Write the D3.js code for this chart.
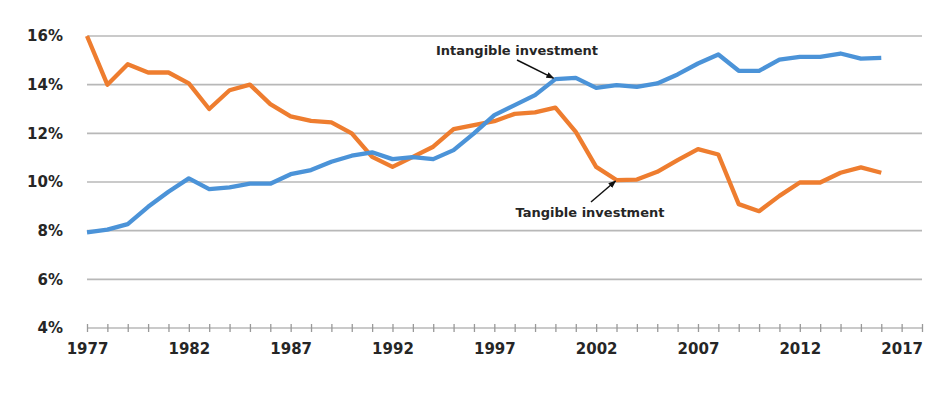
<!DOCTYPE html>
<html>
<head>
<meta charset="utf-8">
<script src="https://cdn.jsdelivr.net/npm/d3@7"></script>
<style>
  body { margin: 0; background: #fff; }
  text { font-family: "DejaVu Sans", Verdana, sans-serif; font-weight: bold; fill: #262626; }
</style>
</head>
<body>
<script>
// years of data
const years = d3.range(1977, 2017)

// tangible investment, % (orange)
const tangible = [16.0, 14.0, 14.84, 14.5, 14.5, 14.05, 13.0, 13.77, 14.0, 13.2,
  12.7, 12.51, 12.45, 12.0, 11.03, 10.62, 11.03, 11.45, 12.17, 12.34,
  12.5, 12.8, 12.86, 13.06, 12.06, 10.62, 10.08, 10.1, 10.42, 10.9,
  11.35, 11.13, 9.09, 8.8, 9.43, 9.98, 9.98, 10.38, 10.6, 10.38]

// intangible investment, % (blue)
const intangible = [7.93, 8.04, 8.27, 8.98, 9.6, 10.15, 9.71, 9.78, 9.93, 9.93,
  10.32, 10.49, 10.83, 11.08, 11.22, 10.94, 11.02, 10.94, 11.31, 12.0,
  12.75, 13.16, 13.57, 14.23, 14.28, 13.87, 13.98, 13.91, 14.05, 14.42,
  14.87, 15.24, 14.57, 14.57, 15.03, 15.14, 15.14, 15.28, 15.07, 15.1]

const yTicks = [4, 6, 8, 10, 12, 14, 16]
const xLabels = [1977, 1982, 1987, 1992, 1997, 2002, 2007, 2012, 2017]

const width = 944
const height = 393

const blue = '#4b93d8'
const orange = '#ee7d2f'
const gridColor = '#b8b8b8'

const svg = d3.select('body').append('svg')
  .attr('width', width)
  .attr('height', height)

const x = d3.scaleLinear().domain([1977, 2018]).range([87, 922])
const y = d3.scaleLinear().domain([4, 16]).range([328, 36])

// Gridlines
svg.append('g')
  .selectAll('line')
  .data(yTicks)
  .enter()
  .append('line')
  .attr('x1', x(1977))
  .attr('x2', x(2018))
  .attr('y1', (d) => y(d))
  .attr('y2', (d) => y(d))
  .attr('stroke', gridColor)
  .attr('stroke-width', 1.7)

// Y labels
svg.append('g')
  .selectAll('text')
  .data(yTicks)
  .enter()
  .append('text')
  .attr('x', 63)
  .attr('y', (d) => y(d))
  .attr('dy', '0.36em')
  .attr('text-anchor', 'end')
  .style('font-size', '15px')
  .text((d) => d + '%')

// X axis, ticks crossing the line
const xAxis = svg.append('g')
  .attr('transform', `translate(0,${y(4)})`)
  .call(
    d3.axisBottom(x)
      .tickValues(d3.range(1977, 2019))
      .tickSize(4)
      .tickSizeOuter(0)
      .tickFormat((d) => (xLabels.includes(d) ? d : ''))
  )
xAxis.select('.domain').remove()
xAxis.selectAll('.tick line')
  .attr('y1', -4)
  .attr('y2', 4)
  .attr('stroke', '#999')
  .attr('stroke-width', 1.3)
xAxis.selectAll('.tick text')
  .attr('y', 15)
  .attr('dy', '0.71em')
  .style('font-size', '15px')
  .style('font-family', '"DejaVu Sans", Verdana, sans-serif')
  .style('font-weight', 'bold')
  .attr('fill', '#262626')

// Lines
const line = d3.line()
  .x((d, i) => x(years[i]))
  .y((d) => y(d))

svg.append('path')
  .datum(tangible)
  .attr('fill', 'none')
  .attr('stroke', orange)
  .attr('stroke-width', 4.3)
  .attr('stroke-linejoin', 'round')
  .attr('d', line)

svg.append('path')
  .datum(intangible)
  .attr('fill', 'none')
  .attr('stroke', blue)
  .attr('stroke-width', 4.3)
  .attr('stroke-linejoin', 'round')
  .attr('d', line)

// Arrowhead marker
svg.append('defs')
  .append('marker')
  .attr('id', 'arrowhead')
  .attr('markerWidth', 8)
  .attr('markerHeight', 6)
  .attr('refX', 7)
  .attr('refY', 3)
  .attr('orient', 'auto')
  .attr('markerUnits', 'userSpaceOnUse')
  .append('polygon')
  .attr('points', '0 0, 8 3, 0 6')
  .attr('fill', '#111')

// Annotations
svg.append('text')
  .attr('x', 517)
  .attr('y', 55)
  .attr('text-anchor', 'middle')
  .style('font-size', '13px')
  .text('Intangible investment')

svg.append('line')
  .attr('x1', 517)
  .attr('y1', 60)
  .attr('x2', x(2000) - 2)
  .attr('y2', y(intangible[23]) - 1)
  .attr('stroke', '#111')
  .attr('stroke-width', 1.5)
  .attr('marker-end', 'url(#arrowhead)')

svg.append('text')
  .attr('x', 590)
  .attr('y', 217)
  .attr('text-anchor', 'middle')
  .style('font-size', '13px')
  .text('Tangible investment')

svg.append('line')
  .attr('x1', 591)
  .attr('y1', 202)
  .attr('x2', x(2003) - 1)
  .attr('y2', y(tangible[26]) + 1)
  .attr('stroke', '#111')
  .attr('stroke-width', 1.5)
  .attr('marker-end', 'url(#arrowhead)')
</script>
</body>
</html>
